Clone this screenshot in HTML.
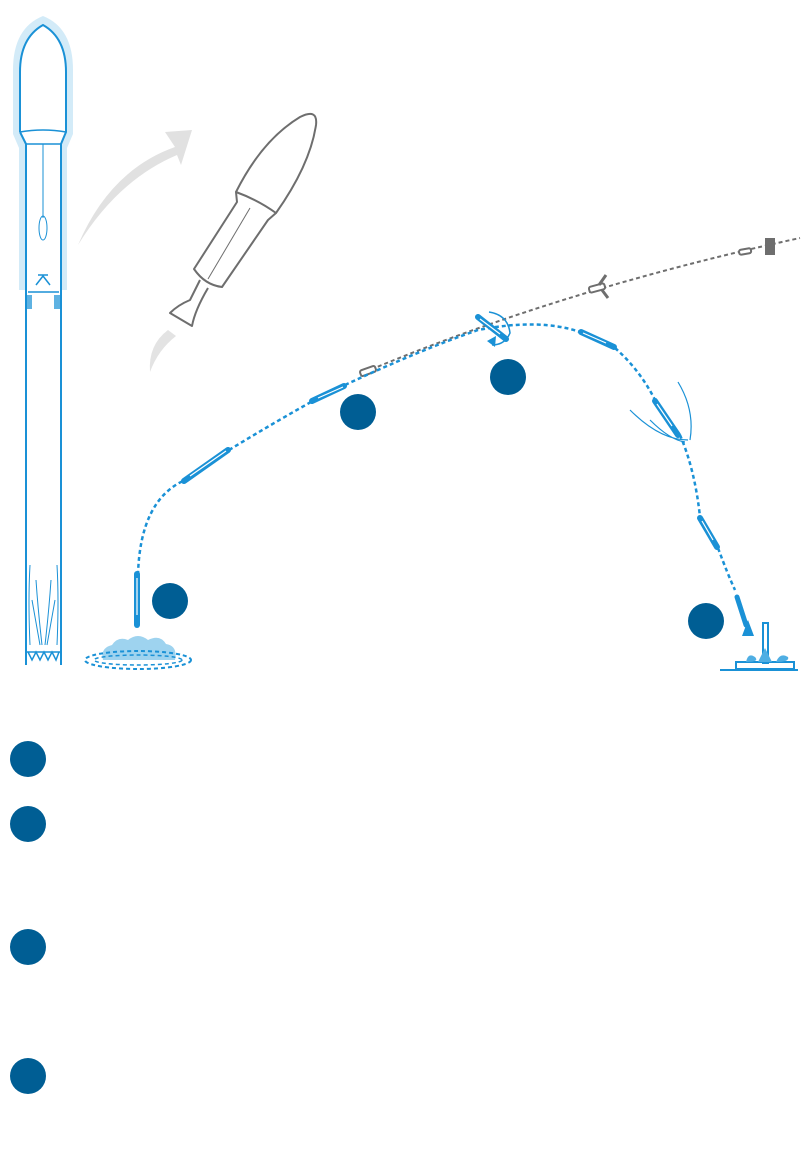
<!DOCTYPE html>
<html><head><meta charset="utf-8"><style>
html,body{margin:0;padding:0;background:#fff;}
svg{display:block;}
</style></head><body>
<svg width="808" height="1152" viewBox="0 0 808 1152" xmlns="http://www.w3.org/2000/svg">
<!-- left rocket glow -->
<path d="M13,134 L13,70 Q13,28 43,16 Q73,28 73,70 L73,134 L67,148 L67,290 L19,290 L19,148 Z" fill="#d3ebf8"/>
<path d="M20,132 L20,72 Q20,38 43,25 Q66,38 66,72 L66,132 L61,144 L61,290 L26,290 L26,144 Z" fill="#fff"/>
<g fill="none" stroke="#1a91d6" stroke-width="2">
<path d="M20,132 L20,72 Q20,38 43,25 Q66,38 66,72 L66,132 L61,144 L61,665 M20,132 L26,144 L26,665"/>
<path d="M20,132 Q43,128 66,132" stroke-width="1.5"/>
<line x1="26" y1="144" x2="61" y2="144" stroke-width="1.5"/>
<line x1="43" y1="144" x2="43" y2="218" stroke-width="1"/>
<ellipse cx="43" cy="228" rx="4" ry="12" stroke-width="1"/>
<path d="M36,285 L43,276 L50,285 M38,275 L48,275 M28,292 L59,292" stroke-width="1.5"/>
<path d="M26,652 L61,652 M28,652 L32,660 L36,652 L40,660 L44,652 L48,660 L52,652 L56,660 L59,652" stroke-width="1.5"/>
<path d="M30,565 Q28,600 30,645 M57,565 Q59,600 57,645 M32,600 L40,645 M55,600 L47,645 M36,580 Q38,610 42,645 M51,580 Q49,610 45,645" stroke-width="1"/>
</g>
<rect x="26" y="295" width="6" height="14" fill="#1a91d6" opacity=".7"/>
<rect x="54" y="295" width="6" height="14" fill="#1a91d6" opacity=".7"/>
<!-- gray arrow -->
<path d="M78,245 Q110,170 175,147 L165,132 L192,130 L181,165 L177,155 Q118,180 78,245 Z" fill="#e1e1e1"/>
<!-- gray rocket -->
<g fill="none" stroke="#6e6e6e" stroke-width="2" stroke-linejoin="round">
<path d="M236,192 Q262,140 300,117 Q318,108 316,125 Q310,165 276,213"/>
<path d="M236,192 Q258,200 276,213 L268,220 L222,287 Q205,285 194,269 L237,202 Z"/>
<line x1="250" y1="208" x2="208" y2="279" stroke-width="1"/>
<path d="M200,280 L190,300 Q178,305 170,313 L192,326 Q195,310 208,288"/>
</g>
<path d="M168,330 Q148,345 150,372 Q158,350 176,336 Z" fill="#e3e3e3"/>
<!-- gray trajectory -->
<path d="M365,372 Q560,290 800,238" fill="none" stroke="#6e6e6e" stroke-width="2" stroke-dasharray="4,3"/>
<rect x="589" y="285" width="16" height="6" rx="2" transform="rotate(-15 597 288)" fill="#fff" stroke="#6e6e6e" stroke-width="2"/>
<path d="M599,285 L606,275 M602,290 L608,298" stroke="#6e6e6e" stroke-width="3"/>
<rect x="739" y="249" width="12" height="5" rx="2" fill="#fff" stroke="#6e6e6e" stroke-width="2" transform="rotate(-10 745 251)"/>
<rect x="765" y="238" width="10" height="17" fill="#6e6e6e"/>
<rect x="360" y="368" width="16" height="6" rx="2" fill="#fff" stroke="#6e6e6e" stroke-width="2" transform="rotate(-20 368 371)"/>
<!-- blue trajectory -->
<path d="M138,575 Q140,500 185,480 M229,450 Q270,425 311,402 M345,385 Q420,350 478,330 Q540,318 580,332 M615,348 Q640,370 655,400 M680,435 Q695,470 700,517 M718,548 Q728,575 735,590" fill="none" stroke="#1a91d6" stroke-width="2.5" stroke-dasharray="4,3"/>
<g stroke="#1a91d6" fill="none" stroke-linecap="round">
<line x1="184" y1="481" x2="228" y2="450" stroke-width="6"/>
<line x1="312" y1="401" x2="344" y2="386" stroke-width="6"/>
<line x1="478" y1="317" x2="506" y2="339" stroke-width="6"/>
<line x1="581" y1="332" x2="614" y2="347" stroke-width="6"/>
<line x1="655" y1="401" x2="678" y2="435" stroke-width="6"/>
<line x1="700" y1="518" x2="717" y2="547" stroke-width="6"/>
<line x1="737" y1="597" x2="746" y2="625" stroke-width="5"/>
<line x1="137" y1="574" x2="137" y2="625" stroke-width="6"/>
</g>
<g stroke="#fff" stroke-width="1.2" fill="none">
<line x1="190" y1="476" x2="226" y2="451"/>
<line x1="318" y1="398" x2="343" y2="387"/>
<line x1="480" y1="319" x2="500" y2="334"/>
<line x1="583" y1="333" x2="606" y2="343"/>
<line x1="657" y1="404" x2="672" y2="426"/>
<line x1="702" y1="521" x2="713" y2="540"/>
<line x1="137" y1="578" x2="137" y2="615"/>
</g>
<g stroke="#1a91d6" fill="none">
<path d="M489,312 Q508,315 510,333 Q505,345 492,345" stroke-width="1.5"/>
<path d="M630,410 Q660,440 688,440 M678,382 Q695,410 690,440 M650,420 Q670,440 685,442" stroke-width="1.2"/>
</g>
<path d="M487,341 L496,336 L495,347 Z" fill="#1a91d6"/>
<path d="M742,636 L748,620 L754,636 Z" fill="#1a91d6"/>
<!-- cloud -->
<path d="M103,660 Q100,648 112,645 Q118,636 128,640 Q138,632 148,640 Q160,634 166,644 Q178,646 175,660 Z" fill="#9ed3ef"/>
<ellipse cx="138" cy="660" rx="53" ry="9" fill="none" stroke="#1a91d6" stroke-width="2" stroke-dasharray="4,3"/>
<ellipse cx="138" cy="660" rx="44" ry="5" fill="none" stroke="#1a91d6" stroke-width="1.5" stroke-dasharray="4,3"/>
<!-- landing pad -->
<line x1="720" y1="670" x2="798" y2="670" stroke="#1a91d6" stroke-width="2"/>
<rect x="736" y="662" width="58" height="7" fill="none" stroke="#1a91d6" stroke-width="2"/>
<rect x="763" y="623" width="5" height="40" fill="none" stroke="#1a91d6" stroke-width="2"/>
<path d="M746,662 Q748,652 755,657 Q760,662 746,662 Z M776,662 Q780,652 788,657 Q790,662 776,662 Z M758,662 L765,648 L772,662 Z" fill="#4faee3"/>
<!-- number circles -->
<g fill="#005e94">
<circle cx="170" cy="601" r="18"/>
<circle cx="358" cy="412" r="18"/>
<circle cx="508" cy="377" r="18"/>
<circle cx="706" cy="621" r="18"/>
<circle cx="28" cy="759" r="18"/>
<circle cx="28" cy="824" r="18"/>
<circle cx="28" cy="947" r="18"/>
<circle cx="28" cy="1076" r="18"/>
</g>
</svg>
</body></html>
